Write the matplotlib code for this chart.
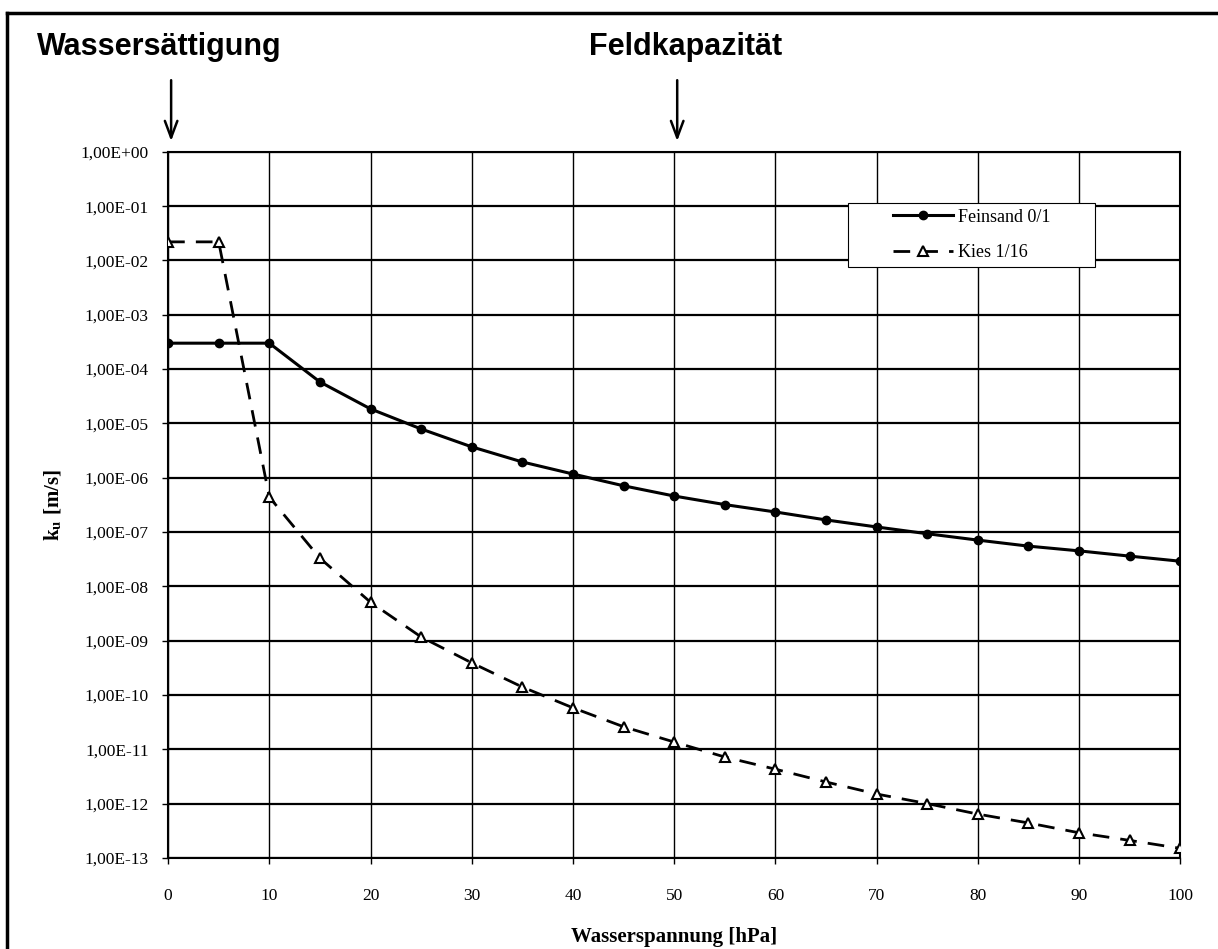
import numpy as np
import matplotlib
matplotlib.use("Agg")
import matplotlib.pyplot as plt
from matplotlib.ticker import FixedLocator, FuncFormatter, NullLocator
from matplotlib.lines import Line2D
from matplotlib.patches import Rectangle

plt.rcParams['font.family'] = ['Liberation Serif', 'DejaVu Serif']
plt.rcParams['mathtext.fontset'] = 'stix'

# water tension [hPa]
tension = [0, 5, 10, 15, 20, 25, 30, 35, 40, 45, 50,
           55, 60, 65, 70, 75, 80, 85, 90, 95, 100]

# unsaturated conductivity k_u [m/s]
feinsand = [3.0e-4, 3.0e-4, 3.0e-4, 5.8e-5, 1.85e-5, 7.9e-6, 3.7e-6, 1.95e-6,
            1.17e-6, 7.1e-7, 4.6e-7, 3.2e-7, 2.34e-7, 1.67e-7, 1.24e-7, 9.3e-8,
            7.1e-8, 5.5e-8, 4.5e-8, 3.6e-8, 2.9e-8]
kies = [2.2e-2, 2.2e-2, 4.4e-7, 3.3e-8, 5.1e-9, 1.17e-9, 3.9e-10, 1.4e-10,
        5.8e-11, 2.6e-11, 1.36e-11, 7.2e-12, 4.3e-12, 2.5e-12, 1.5e-12, 1.0e-12,
        6.4e-13, 4.4e-13, 2.9e-13, 2.1e-13, 1.5e-13]

x_ticks = list(range(0, 101, 10))
y_ticks = [10.0 ** e for e in range(0, -14, -1)]

fig = plt.figure(figsize=(12.18, 9.49), dpi=100)
ax = fig.add_axes([0.138, 0.096, 0.831, 0.744])

ax.plot(tension, feinsand, color='black', lw=2.2, marker='o', ms=6,
        label='Feinsand 0/1', zorder=4)
ax.plot(tension, kies, color='black', lw=2.0, ls=(0, (6, 4)), marker='^', ms=7,
        mfc='white', mec='black', mew=1.5, label='Kies 1/16', zorder=4)

ax.set_yscale('log')
ax.set_xlim(0, 100)
ax.set_ylim(1e-13, 1)
ax.xaxis.set_major_locator(FixedLocator(x_ticks))
ax.yaxis.set_major_locator(FixedLocator(y_ticks))
ax.yaxis.set_minor_locator(NullLocator())
ax.yaxis.set_major_formatter(FuncFormatter(lambda v, p: f"{v:.2E}".replace('.', ',')))

# grid: heavy horizontals, thin verticals
ax.grid(axis='y', color='black', lw=1.6)
ax.grid(axis='x', color='black', lw=1.0)
ax.set_axisbelow(True)
for s in ax.spines.values():
    s.set_linewidth(1.5)

ax.tick_params(axis='both', direction='out', length=4, width=1, labelsize=12.5)
ax.tick_params(axis='x', pad=18)
ax.tick_params(axis='y', pad=10)

ax.set_xlabel('Wasserspannung [hPa]', fontsize=15, fontweight='bold', labelpad=16)
ax.set_ylabel(r'k$_{\mathbf{u}}$ [m/s]', fontsize=15, fontweight='bold', labelpad=12)

# legend box (wide, white, covers the grid)
ax.add_patch(Rectangle((0.672, 0.837), 0.244, 0.091, transform=ax.transAxes,
                       facecolor='white', edgecolor='black', lw=0.8, zorder=5))
leg = ax.legend(loc='center', bbox_to_anchor=(0.794, 0.8825), fontsize=13,
                frameon=False, handlelength=3.3, handletextpad=0.3,
                labelspacing=1.0)
leg.set_zorder(6)

# annotations above the plot
for xv, txt, tx in [(0, 'Wassersättigung', 0.131), (50, 'Feldkapazität', 0.563)]:
    fig.text(tx, 0.951, txt, fontsize=22, fontweight='bold',
             family=['Liberation Sans', 'DejaVu Sans'], ha='center', va='center')
    ax.annotate('', xy=(xv + 0.3, 1.4), xycoords='data',
                xytext=(xv + 0.3, 10 ** 1.37), textcoords='data',
                annotation_clip=False,
                arrowprops=dict(arrowstyle='->,head_length=1.2,head_width=0.45',
                                color='black', lw=1.8))

# outer frame (left and top edges visible)
fig.add_artist(Line2D([7 / 1218, 7 / 1218], [0, 1 - 13 / 949], color='black', lw=2.5))
fig.add_artist(Line2D([7 / 1218, 1], [1 - 13 / 949, 1 - 13 / 949], color='black', lw=2.5))

fig.savefig('out.png', dpi=100)
